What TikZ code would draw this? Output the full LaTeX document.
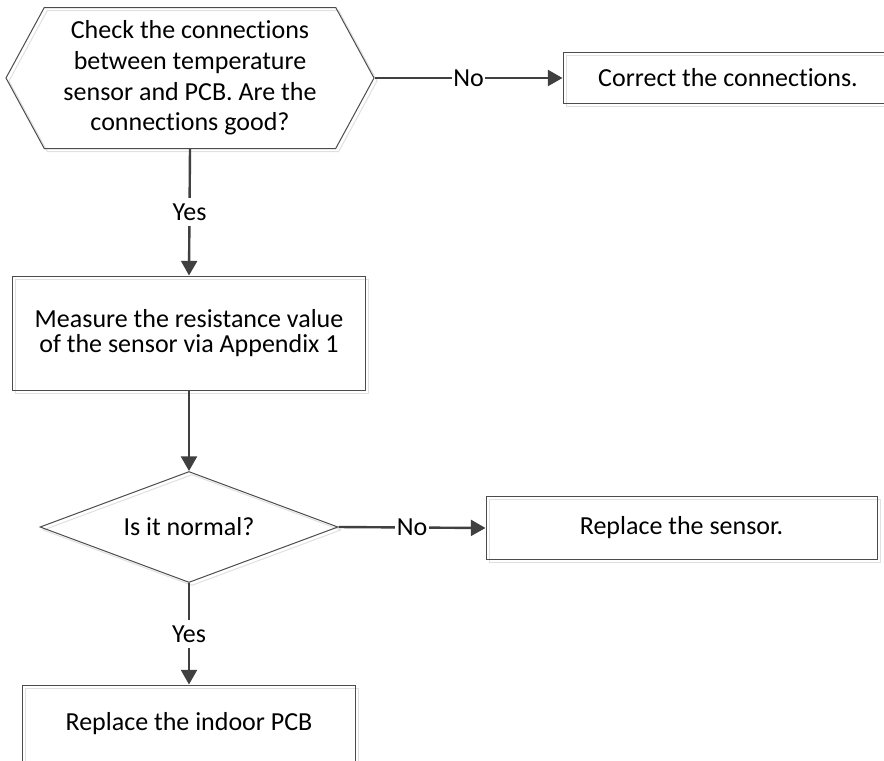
\documentclass[tikz,border=0pt]{standalone}
\usepackage{fontspec}
\setmainfont{Carlito}[Ligatures=NoCommon]
\usetikzlibrary{shapes.geometric,shapes.symbols,arrows.meta,shadows}

\tikzset{
  ghost/.style={general shadow={shadow xshift=2.25pt,shadow yshift=-2.25pt,draw=black!12,line width=0.75pt}},
  box/.style={draw=black!70,line width=0.75pt,ghost,inner sep=0pt,align=center},
  flow/.style={draw=black!75,line width=1.8pt,-{Triangle[length=11pt,width=12pt]}},
  lbl/.style={fill=white,inner xsep=1pt,inner ysep=4pt,text=black}
}

\begin{document}
\begin{tikzpicture}[x=0.75pt,y=-0.75pt,every node/.style={font=\fontsize{19.5}{22}\selectfont}]
  \useasboundingbox (0,0) rectangle (884,760);

  \node[box,shape=signal,signal to=west and east,signal pointer angle=123,
        minimum width=276pt,minimum height=105.75pt,
        font=\fontsize{19.5}{23}\selectfont] (check) at (190,78)
        {Check the connections\\between temperature\\sensor and PCB. Are the\\connections good?};
  \node[box,minimum width=247.5pt,minimum height=38.25pt] (correct) at (728,78) {Correct the connections.};
  \node[box,minimum width=264.75pt,minimum height=85.5pt,
        font=\fontsize{19.5}{18.75}\selectfont] (measure) at (189,333)
        {Measure the resistance value\\of the sensor via Appendix 1};
  \node[box,diamond,aspect=2.7,minimum width=223.5pt,minimum height=83.25pt] (normal) at (189,527) {Is it normal?};
  \node[box,minimum width=293.25pt,minimum height=47.25pt] (sensor) at (681.5,528) {Replace the sensor.};
  \node[box,minimum width=249.75pt,minimum height=58.5pt] (pcb) at (189,724) {Replace the indoor PCB};

  \draw[flow] (check.east) -- node[lbl] {No} (correct.west);
  \draw[flow] (check.south) -- node[lbl] {Yes} (measure.north);
  \draw[flow] (measure) -- (normal);
  \draw[flow] (normal.east) -- node[lbl] {No} (sensor.west);
  \draw[flow] (normal.south) -- node[lbl] {Yes} (pcb.north);
\end{tikzpicture}
\end{document}
